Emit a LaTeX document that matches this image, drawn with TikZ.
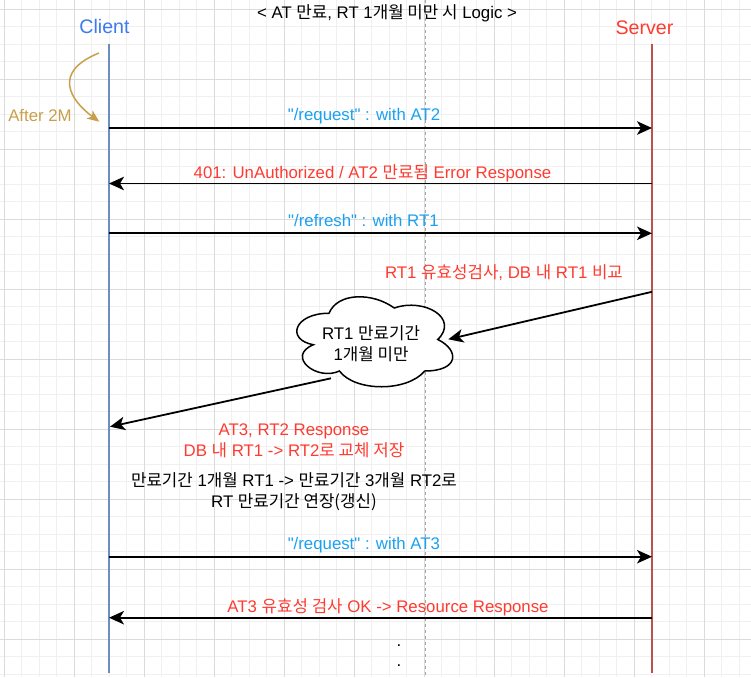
\documentclass[tikz,border=0pt]{standalone}
\usepackage{fontspec}
\newfontfamily\arialfont{Liberation Sans}
\newfontfamily\krfont{Noto Sans CJK KR}
\newcommand\kor[1]{{\krfont #1}}
\usetikzlibrary{arrows.meta}
\definecolor{clientblue}{RGB}{59,122,240}
\definecolor{serverred}{RGB}{255,59,48}
\definecolor{reqcyan}{RGB}{27,161,242}
\definecolor{aftergold}{RGB}{200,160,75}
\definecolor{clientline}{HTML}{6C8EBF}
\definecolor{serverline}{HTML}{B85450}

\begin{document}
\begin{tikzpicture}[x=1pt,y=-1pt,
  txt/.style={inner sep=0pt,font=\arialfont\fontsize{16.8}{21}\selectfont,align=center},
  actor/.style={inner sep=0pt,font=\arialfont\fontsize{19.6}{24}\selectfont},
  msg/.style={line width=1.8pt,-{Stealth[length=15pt,width=13.5pt,inset=4pt]}},
  life/.style={line width=1.6pt},
  gridminor/.style={black!6,line width=.8pt},
  gridmajor/.style={black!14,line width=.8pt}]
  \fill[white] (0,0) rectangle (751,677);
  \useasboundingbox (0,0) rectangle (751,677);
  % grid
  \foreach \i in {0,...,42}
           {\draw[gridminor] ({4.3+17.5*\i},0) -- ({4.3+17.5*\i},677);}
  \foreach \i in {0,...,38}
           {\draw[gridminor] (0,{9.3+17.5*\i}) -- (751,{9.3+17.5*\i});}
  \foreach \i in {0,...,10}
           {\draw[gridmajor] ({4.3+70*\i},0) -- ({4.3+70*\i},677);}
  \foreach \i in {0,...,9}
           {\draw[gridmajor] (0,{9.3+70*\i}) -- (751,{9.3+70*\i});}
  \draw[black!35,line width=.8pt,dash pattern=on 3pt off 3pt] (425,0) -- (425,677);
  %
  \node[txt] (title) at (387,13.3) {< AT \kor{만료}, RT 1\kor{개월 미만 시} Logic >};
  \node[actor,text=clientblue] (client) at (104.5,26.7) {Client};
  \node[actor,text=serverred] (server) at (644.5,27.3) {Server};
  \coordinate (ctop) at (109,44);
  \coordinate (cbot) at (109,673);
  \coordinate (stop) at (652,44);
  \coordinate (sbot) at (652,673);
  \draw[life,clientline] (ctop) -- (cbot);
  \draw[life,serverline] (stop) -- (sbot);
  % after 2M
  \node[txt,text=aftergold] (after) at (40,115.7) {After 2M};
  \coordinate (wait1) at (99,53);
  \coordinate (wait2) at (99.3,121.7);
  \draw[line width=1.5pt,aftergold,-{Stealth[length=12pt,width=10pt,inset=3pt]}]
    (wait1) .. controls (52,72) and (70,100) .. (wait2);
  % messages
  \coordinate (c1) at (109,128);   \coordinate (s1) at (652,128);
  \coordinate (c2) at (109,183.5); \coordinate (s2) at (652,183.5);
  \coordinate (c3) at (109,233.3); \coordinate (s3) at (652,233.3);
  \coordinate (c8) at (109,556.7); \coordinate (s8) at (652,556.7);
  \coordinate (c9) at (109,617.7); \coordinate (s9) at (652,617.7);
  \draw[msg] (c1) -- (s1);
  \node[txt,text=reqcyan] (req1) at (364,115.7) {"/request" : with AT2};
  \draw[msg] (s2) -- (c2);
  \node[txt,text=serverred] (err) at (372.5,173.3) {401: UnAuthorized / AT2 \kor{만료됨} Error Response};
  \draw[msg] (c3) -- (s3);
  \node[txt,text=reqcyan] (refresh) at (363.4,220) {"/refresh" : with RT1};
  % check on server
  \node[txt,text=serverred] (check) at (504,272.7) {RT1 \kor{유효성검사}, DB \kor{내} RT1 \kor{비교}};
  \begin{scope}[shift={(285.5,287)},x=174pt,y=-105pt]
    \draw[line width=1.5pt,fill=white] (.25,.25) .. controls (.05,.25) and (0,.5) .. (.16,.55)
      .. controls (0,.66) and (.18,.9) .. (.31,.8)
      .. controls (.4,1) and (.7,1) .. (.8,.8)
      .. controls (1,.8) and (1,.6) .. (.875,.5)
      .. controls (1,.3) and (.8,.1) .. (.625,.2)
      .. controls (.5,.05) and (.3,.05) .. (.25,.25) -- cycle;
  \end{scope}
  \node[txt] (cloud) at (371,343.3) {RT1 \kor{만료기간}\\1\kor{개월 미만}};
  \coordinate (s4) at (652,291.8);
  \coordinate (cin) at (448.3,339.3);
  \coordinate (cout) at (331,378.3);
  \coordinate (c6) at (110,426.7);
  \draw[msg] (s4) -- (cin);
  \draw[msg] (cout) -- (c6);
  \node[txt,text=serverred] (resp) at (294,440.5) {AT3, RT2 Response\\DB \kor{내} RT1 -> RT2\kor{로 교체 저장}};
  \node[txt] (note) at (294,491.7) {\kor{만료기간} 1\kor{개월} RT1 -> \kor{만료기간} 3\kor{개월} RT2\kor{로}\\RT \kor{만료기간 연장(갱신)}};
  % new access token
  \draw[msg] (c8) -- (s8);
  \node[txt,text=reqcyan] (req2) at (363.9,545) {"/request" : with AT3};
  \draw[msg] (s9) -- (c9);
  \node[txt,text=serverred] (ok) at (388,607.3) {AT3 \kor{유효성 검사} OK -> Resource Response};
  \node[txt,anchor=base] (dot1) at (399,646) {.};
  \node[txt,anchor=base] (dot2) at (399,666) {.};
\end{tikzpicture}
\end{document}
